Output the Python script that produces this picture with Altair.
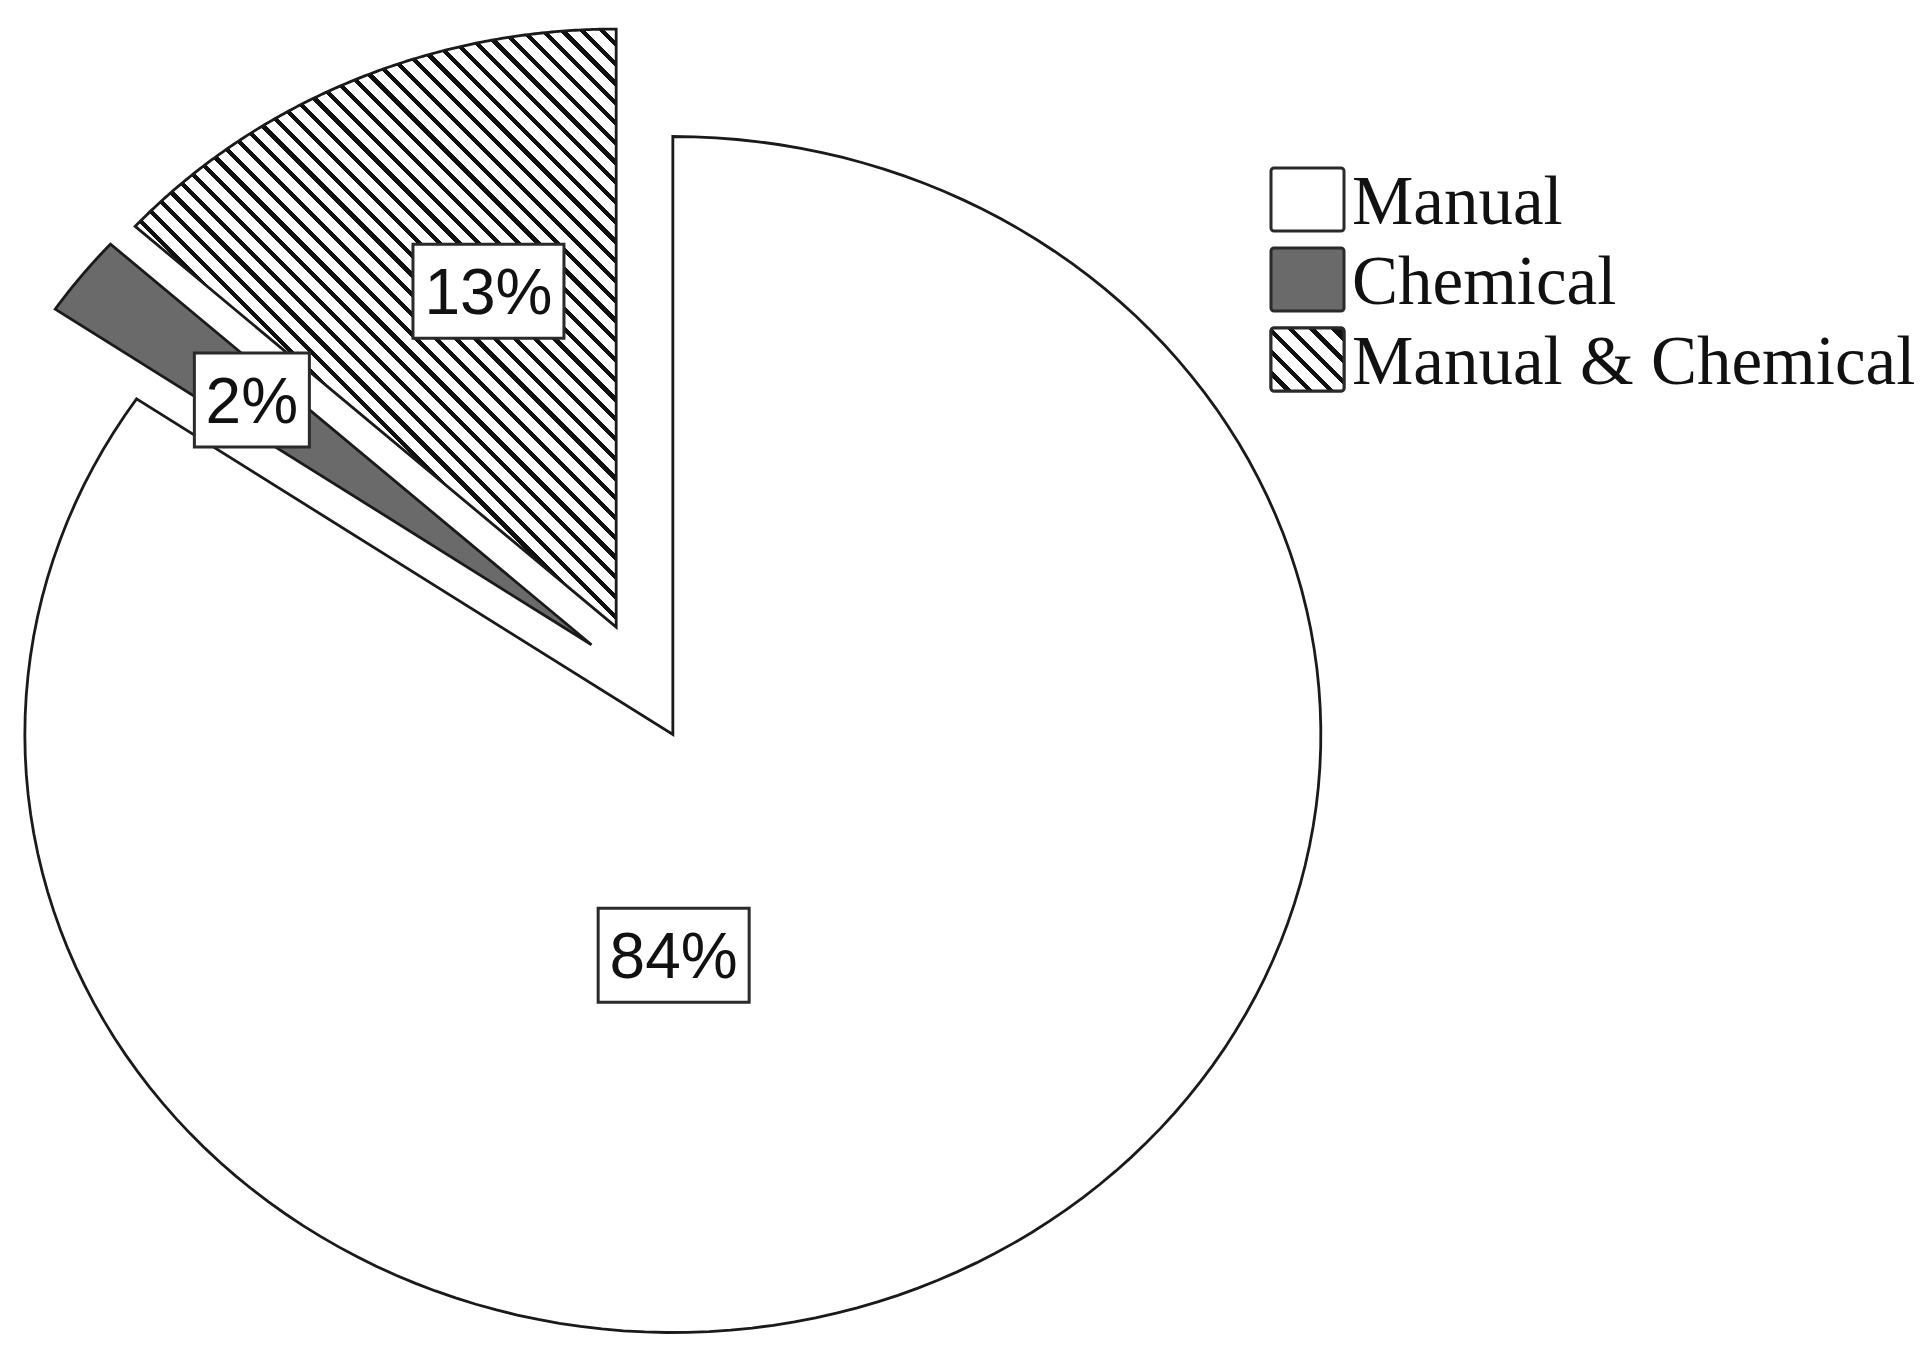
import math
import altair as alt
import pandas as pd

# ---------------- data ----------------
categories = ["Manual", "Chemical", "Manual & Chemical"]
shares = [84.4, 2.2, 13.3]          # percent

# ---------------- style / layout ----------------
W, H = 1912, 1340                   # plot area (page minus margins)
MARGIN = 8
CX, CY = 642.5 - MARGIN, 681.7 - MARGIN   # pie centre in plot px
RX, RY = 648.0, 598.0               # pie radii in px (picture is slightly stretched)
EXPLODE = 0.1                       # explode distance, fraction of radius
N_ARC = 160
STROKE = "#1a1a1a"
GRAY = "#6a6a6a"
slice_fills = ["white", GRAY, "hatch"]
label_theta_deg = [174.0, 308.0, 340.0]   # label direction from pie centre (clockwise from 12 o'clock)
label_radius = [0.46, 0.765, 0.695]       # label distance, fraction of radius

LEG_X0, LEG_X1 = 1271, 1344         # legend swatch, page px
LEG_TOP, LEG_STEP, LEG_H = 168, 80, 63
LEG_TX = 1352


def hatch(wb, hb, period=14.0, black=0.32):
    """linear gradient with hard stops -> diagonal '\\' stripes in a wb x hb box"""
    r = hb / wb
    span = (wb + hb * r) / math.sqrt(2)
    n = int(round(span / period))
    stops = []
    for i in range(n):
        s = i / n
        m = s + (1 - black) / n
        e = (i + 1) / n
        stops += [
            {"offset": s, "color": "white"},
            {"offset": m, "color": "white"},
            {"offset": m, "color": "#111111"},
            {"offset": e, "color": "#111111"},
        ]
    return {"gradient": "linear", "x1": 0, "y1": 1, "x2": 1, "y2": 1 - r, "stops": stops}


def dx(px):  # page px -> data x
    return (px - MARGIN - CX) / RX


xs = alt.Scale(domain=[-CX / RX, (W - CX) / RX], nice=False, zero=False)
ys = alt.Scale(domain=[(CY - H) / RY, CY / RY], nice=False, zero=False)

df = pd.DataFrame({
    "category": categories,
    "value": shares,
    "idx": list(range(len(categories))),
    "lt": [math.radians(t) for t in label_theta_deg],
    "lr": label_radius,
})

base = (
    alt.Chart(df)
    .transform_window(cum="sum(value)", sort=[alt.SortField("idx")])
    .transform_joinaggregate(total="sum(value)")
    .transform_calculate(a0="2*PI*(datum.cum - datum.value)/datum.total")
    .transform_calculate(a1="2*PI*datum.cum/datum.total")
    .transform_calculate(mid="(datum.a0 + datum.a1)/2")
    .transform_calculate(ox=f"{EXPLODE}*sin(datum.mid)")
    .transform_calculate(oy=f"{EXPLODE}*cos(datum.mid)")
)

pie = (
    base.transform_calculate(pts=f"sequence(0, {N_ARC + 2})")
    .transform_flatten(["pts"], as_=["k"])
    .transform_calculate(ang=f"datum.a0 + (datum.k - 1)/{N_ARC}*(datum.a1 - datum.a0)")
    .transform_calculate(px="datum.ox + (datum.k == 0 ? 0 : sin(datum.ang))")
    .transform_calculate(py="datum.oy + (datum.k == 0 ? 0 : cos(datum.ang))")
)

hatch_pie = hatch(481, 598)
hatch_leg = hatch(LEG_X1 - LEG_X0, LEG_H, period=15.0, black=0.3)

layers = []
for cat, f in zip(categories, slice_fills):
    fill = hatch_pie if f == "hatch" else f
    layers.append(
        pie.transform_filter(alt.datum.category == cat)
        .mark_line(fill=fill, stroke=STROKE, strokeWidth=2.8,
                   interpolate="linear-closed", strokeJoin="miter")
        .encode(
            x=alt.X("px:Q", scale=xs, axis=None),
            y=alt.Y("py:Q", scale=ys, axis=None),
            order=alt.Order("k:Q"),
        )
    )

# ---- percentage labels with boxes ----
lab = (
    base.transform_calculate(txt="format(datum.value, '.0f') + '%'")
    .transform_calculate(lx="datum.lr*sin(datum.lt)")
    .transform_calculate(ly="datum.lr*cos(datum.lt)")
    .transform_calculate(hw=f"(36*length(datum.txt) + 43)/2/{RX}")
    .transform_calculate(hh=f"47/{RY}")
    .transform_calculate(bx0="datum.lx - datum.hw", bx1="datum.lx + datum.hw",
                         by0="datum.ly - datum.hh", by1="datum.ly + datum.hh")
)
boxes = lab.mark_rect(fill="white", stroke="#2a2a2a", strokeWidth=3).encode(
    x=alt.X("bx0:Q", scale=xs, axis=None), x2="bx1:Q",
    y=alt.Y("by0:Q", scale=ys, axis=None), y2="by1:Q",
)
texts = lab.mark_text(font="Liberation Sans", fontSize=64, align="center",
                      baseline="alphabetic", dy=23, color="#111111").encode(
    x=alt.X("lx:Q", scale=xs, axis=None),
    y=alt.Y("ly:Q", scale=ys, axis=None),
    text="txt:N",
)

# ---- legend ----
leg = (
    alt.Chart(df)
    .transform_calculate(top=f"{LEG_TOP} + datum.idx*{LEG_STEP}")
    .transform_calculate(
        sx0=f"{dx(LEG_X0)}", sx1=f"{dx(LEG_X1)}",
        sy0=f"({CY} - (datum.top - {MARGIN}))/{RY}",
        sy1=f"({CY} - (datum.top + {LEG_H} - {MARGIN}))/{RY}",
        ty=f"({CY} - (datum.top + {LEG_H} - 7 - {MARGIN}))/{RY}",
        tx=f"{dx(LEG_TX)}",
    )
)
leg_enc = dict(
    x=alt.X("sx0:Q", scale=xs, axis=None), x2="sx1:Q",
    y=alt.Y("sy0:Q", scale=ys, axis=None), y2="sy1:Q",
)
leg_boxes = leg.mark_rect(stroke="#2a2a2a", strokeWidth=3, cornerRadius=3).encode(
    fill=alt.Fill("category:N", scale=alt.Scale(domain=categories,
                  range=["white", GRAY, "white"]), legend=None),
    **leg_enc,
)
leg_hatch = leg.transform_filter(alt.datum.idx == 2).mark_rect(
    fill=hatch_leg, stroke="#2a2a2a", strokeWidth=3, cornerRadius=3).encode(**leg_enc)
leg_text = leg.mark_text(font="Liberation Serif", fontSize=69, align="left",
                         baseline="alphabetic", color="#111111").encode(
    x=alt.X("tx:Q", scale=xs, axis=None),
    y=alt.Y("ty:Q", scale=ys, axis=None),
    text="category:N",
)

chart = alt.layer(*layers, boxes, texts, leg_boxes, leg_hatch, leg_text).properties(
    width=W, height=H, padding=0,
    autosize=alt.AutoSizeParams(type="none"),
).configure_view(stroke=None)

chart.save("out.html", embed_options={"renderer": "svg", "actions": False})
